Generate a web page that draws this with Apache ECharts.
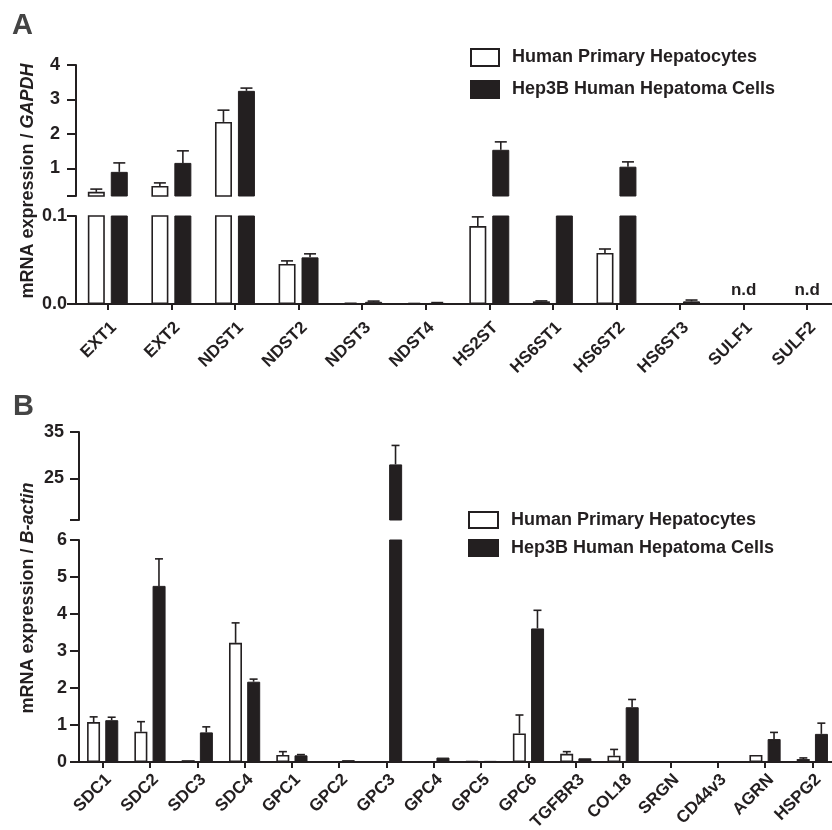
<!DOCTYPE html>
<html><head><meta charset="utf-8">
<script src="https://cdn.jsdelivr.net/npm/echarts@6/dist/echarts.min.js"></script>
<style>html,body{margin:0;padding:0;background:#fff}#c{width:832px;height:830px}</style>
</head><body><div id="c"></div>
<script>
// ---- Panel A data ----
const catsA = ['EXT1','EXT2','NDST1','NDST2','NDST3','NDST4','HS2ST','HS6ST1','HS6ST2','HS6ST3','SULF1','SULF2'];
const primA = [0.32, 0.49, 2.35, 0.0455, 0.0006, 0.0004, 0.0886, 0.003, 0.058, 0, null, null];
const primErrA = [0.08, 0.09, 0.34, 0.0035, 0.0002, 0.0002, 0.0104, 0.0005, 0.0045, 0, null, null];
const hepA = [0.9, 1.16, 3.25, 0.053, 0.0025, 0.0012, 1.54, 0.15, 1.05, 0.003, null, null];
const hepErrA = [0.26, 0.35, 0.08, 0.004, 0.0008, 0.0004, 0.23, 0, 0.14, 0.0015, null, null];
const ndA = ['SULF1','SULF2'];
const ticksTopA = [1, 2, 3, 4];
const ticksBotA = [0, 0.1];

// ---- Panel B data ----
const catsB = ['SDC1','SDC2','SDC3','SDC4','GPC1','GPC2','GPC3','GPC4','GPC5','GPC6','TGFBR3','COL18','SRGN','CD44v3','AGRN','HSPG2'];
const primB = [1.08, 0.82, 0.05, 3.22, 0.19, 0, 0, 0, 0.02, 0.77, 0.22, 0.17, 0, 0.01, 0.19, 0.08];
const primErrB = [0.14, 0.27, 0, 0.54, 0.09, 0, 0, 0, 0, 0.5, 0.06, 0.17, 0, 0, 0, 0.03];
const hepB = [1.13, 4.76, 0.8, 2.17, 0.18, 0.05, 28, 0.12, 0.03, 3.61, 0.1, 1.48, 0, 0, 0.62, 0.76];
const hepErrB = [0.08, 0.73, 0.15, 0.07, 0.02, 0, 4.1, 0, 0, 0.49, 0, 0.21, 0, 0, 0.18, 0.29];
const ticksTopB = [25, 35];
const ticksBotB = [0, 1, 2, 3, 4, 5, 6];

const INK = '#231f20';
const FONT = '"Liberation Sans", Arial, Helvetica, sans-serif';
const NAME1 = 'Human Primary Hepatocytes';
const NAME2 = 'Hep3B Human Hepatoma Cells';

function errData(p, pe, h, he) {
  const out = [];
  p.forEach((v, i) => { if (v != null && pe[i] > 0) out.push([i, v, pe[i], 0]); });
  h.forEach((v, i) => { if (v != null && he[i] > 0) out.push([i, v, he[i], 1]); });
  return out;
}
function errRender(off, capW) {
  return function (params, api) {
    const i = api.value(0), v = api.value(1), e = api.value(2), s = api.value(3);
    const b = api.coord([i, v]);
    const t = api.coord([i, v + e]);
    const x = b[0] + (s === 0 ? -off : off);
    const st = { stroke: INK, lineWidth: 1.6 };
    return { type: 'group', children: [
      { type: 'line', shape: { x1: x, y1: b[1], x2: x, y2: t[1] }, style: st },
      { type: 'line', shape: { x1: x - capW / 2, y1: t[1], x2: x + capW / 2, y2: t[1] }, style: st }
    ]};
  };
}
function ndRender(params, api) {
  const p = api.coord([api.value(0), 0]);
  return { type: 'text', x: p[0], y: p[1] - 5,
    style: { text: 'n.d', align: 'center', verticalAlign: 'bottom', fill: INK, font: 'bold 17px ' + FONT } };
}

const gb = { outerBoundsMode: 'none', containLabel: false };
const grids = [
  Object.assign({ left: 76, width: 763, top: 65, height: 131 }, gb),   // A top
  Object.assign({ left: 76, width: 763, top: 216, height: 88 }, gb),   // A bottom
  Object.assign({ left: 79, width: 757, top: 432, height: 88 }, gb),   // B top
  Object.assign({ left: 79, width: 757, top: 540, height: 222 }, gb)   // B bottom
];

function xAx(idx, cats, show, fs, margin) {
  return {
    type: 'category', gridIndex: idx, data: cats,
    axisLine: { show: show, lineStyle: { color: INK, width: 2 } },
    axisTick: { show: show, alignWithLabel: true, length: 6, lineStyle: { color: INK, width: 2 } },
    axisLabel: { show: show, rotate: 45, interval: 0, margin: margin, verticalAlign: 'top', hideOverlap: false,
      color: INK, fontWeight: 'bold', fontSize: fs, fontFamily: FONT },
    splitLine: { show: false }
  };
}
function yAx(idx, min, max, labels, ticks, fs, margin, fmt) {
  return {
    type: 'value', gridIndex: idx, min: min, max: max,
    axisLine: { show: true, lineStyle: { color: INK, width: 2 } },
    axisTick: { show: true, length: 9, customValues: ticks, lineStyle: { color: INK, width: 2 } },
    axisLabel: { show: true, customValues: labels, margin: margin, color: INK, fontWeight: 'bold', fontSize: fs, fontFamily: FONT,
      formatter: fmt },
    splitLine: { show: false }
  };
}

function bars(gi, p, h, bw, gap) {
  return [
    { name: NAME1, type: 'bar', xAxisIndex: gi, yAxisIndex: gi, data: p, barWidth: bw, barGap: gap, clip: true,
      itemStyle: { color: '#ffffff', borderColor: INK, borderWidth: 1.6 }, emphasis: { disabled: true } },
    { name: NAME2, type: 'bar', xAxisIndex: gi, yAxisIndex: gi, data: h, barWidth: bw, barGap: gap, clip: true,
      itemStyle: { color: INK, borderColor: INK, borderWidth: 1 }, emphasis: { disabled: true } }
  ];
}
function errs(gi, data, off, capW) {
  return { type: 'custom', xAxisIndex: gi, yAxisIndex: gi, data: data, clip: true, z: 3,
    renderItem: errRender(off, capW), silent: true };
}

const eA = errData(primA, primErrA, hepA, hepErrA);
const eB = errData(primB, primErrB, hepB, hepErrB);

const series = [].concat(
  bars(0, primA, hepA, 17, '35%'), [errs(0, eA, 11.5, 12)],
  bars(1, primA, hepA, 17, '35%'), [errs(1, eA, 11.5, 12)],
  [{ type: 'custom', xAxisIndex: 1, yAxisIndex: 1, silent: true, z: 4,
     data: ndA.map(c => [catsA.indexOf(c), 0]), renderItem: ndRender }],
  bars(2, primB, hepB, 13, '40%'), [errs(2, eB, 9, 8)],
  bars(3, primB, hepB, 13, '40%'), [errs(3, eB, 9, 8)]
);

const legendBase = {
  orient: 'vertical', icon: 'rect', data: [NAME1, NAME2], selectedMode: false, padding: 0,
  textStyle: { color: INK, fontWeight: 'bold', fontSize: 18, fontFamily: FONT, padding: [0, 0, 0, 8] }
};

const yName = (t) => ({
  text: '{a|mRNA expression / }{b|' + t + '}', align: 'center', verticalAlign: 'middle',
  rich: { a: { fontSize: 18, fontWeight: 'bold', fontFamily: FONT, fill: INK },
          b: { fontSize: 18, fontWeight: 'bold', fontStyle: 'italic', fontFamily: FONT, fill: INK } }
});

const option = {
  animation: false,
  backgroundColor: '#fff',
  grid: grids,
  xAxis: [xAx(0, catsA, false, 17, 16), xAx(1, catsA, true, 17, 15), xAx(2, catsB, false, 17, 10), xAx(3, catsB, true, 17, 9)],
  yAxis: [
    yAx(0, 0.2, 4, ticksTopA, [0.2].concat(ticksTopA), 18, 16, v => String(v)),
    yAx(1, 0, 0.1, ticksBotA, ticksBotA, 18, 9, v => v.toFixed(1)),
    yAx(2, 16, 35, ticksTopB, [16].concat(ticksTopB), 18, 15, v => String(v)),
    yAx(3, 0, 6, ticksBotB, ticksBotB, 18, 12, v => String(v))
  ],
  legend: [
    Object.assign({}, legendBase, { left: 470, top: 48, itemWidth: 28, itemHeight: 17, itemGap: 13 }),
    Object.assign({}, legendBase, { left: 468, top: 511, itemWidth: 29, itemHeight: 16, itemGap: 10 })
  ],
  graphic: [
    { type: 'text', left: 12, top: 11, style: { text: 'A', fill: '#444', font: 'bold 29px ' + FONT } },
    { type: 'text', left: 13, top: 392, style: { text: 'B', fill: '#444', font: 'bold 29px ' + FONT } },
    { type: 'text', x: 28, y: 181, rotation: Math.PI / 2, style: yName('GAPDH') },
    { type: 'text', x: 28, y: 598, rotation: Math.PI / 2, style: yName('B-actin') }
  ],
  series: series
};

const chart = echarts.init(document.getElementById('c'), null, { renderer: 'canvas' });
chart.setOption(option);
</script>
</body></html>
